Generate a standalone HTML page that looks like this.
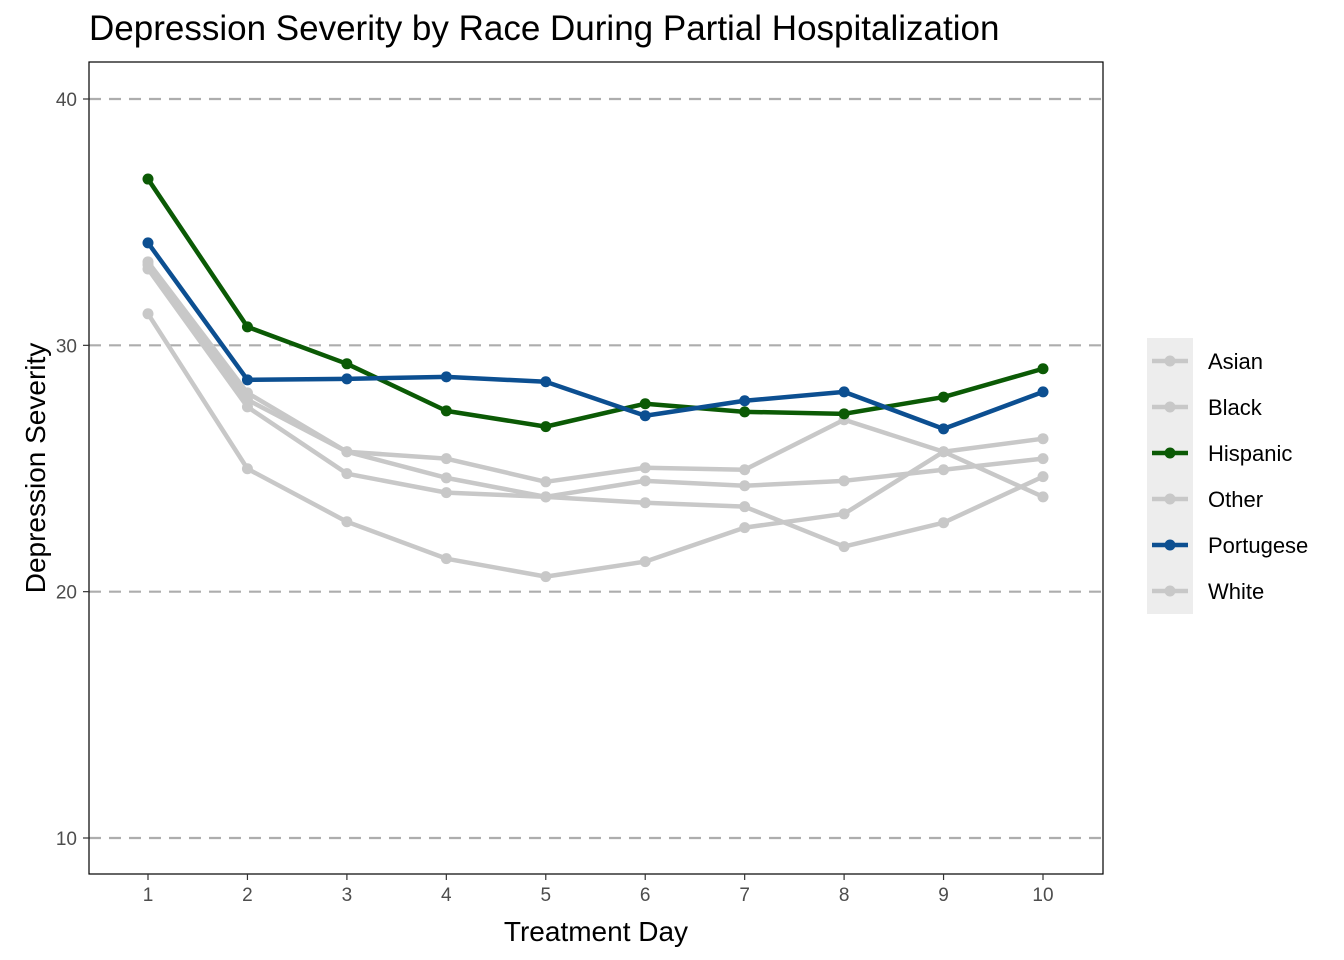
<!DOCTYPE html>
<html><head><meta charset="utf-8"><style>
body{margin:0;background:#fff;width:1344px;height:960px;overflow:hidden}
svg{display:block;font-family:"Liberation Sans",Arial,sans-serif}
</style></head><body>
<svg id="chart" width="1344" height="960" xmlns="http://www.w3.org/2000/svg">
<text x="89" y="40" font-size="35" fill="#000">Depression Severity by Race During Partial Hospitalization</text>
<g id="grid"></g>
<g id="series"></g>
<rect x="89" y="62" width="1014" height="812" fill="none" stroke="#000" stroke-width="1.2"/>
<g id="axes"></g>
<text x="596" y="941" font-size="28" text-anchor="middle">Treatment Day</text>
<text transform="translate(45,468) rotate(-90)" font-size="28" text-anchor="middle">Depression Severity</text>
<rect x="1147" y="338" width="46" height="276" fill="#ededed"/>
<g id="legend"></g>
</svg>
<script>
const days=[1,2,3,4,5,6,7,8,9,10];
const yTicks=[10,20,30,40];
const seriesNames=["Asian","Black","Hispanic","Other","Portugese","White"];
const asian=[33.39,28.07,25.68,25.4,24.46,25.03,24.95,26.98,25.68,23.85];
const black=[33.27,27.79,25.68,24.62,23.85,24.5,24.3,24.5,24.95,25.4];
const hispanic=[36.75,30.75,29.25,27.34,26.7,27.63,27.3,27.22,27.9,29.05];
const other=[31.28,24.99,22.84,21.34,20.61,21.22,22.6,23.16,25.68,26.21];
const portugese=[34.16,28.6,28.64,28.72,28.52,27.14,27.75,28.11,26.61,28.11];
const white=[33.1,27.5,24.79,24.02,23.85,23.61,23.45,21.83,22.8,24.67];
const colors={Asian:"#c8c8c8",Black:"#c8c8c8",Hispanic:"#0b5a05",Other:"#c8c8c8",Portugese:"#0c4f91",White:"#c8c8c8"};
const NS="http://www.w3.org/2000/svg";
const xS=d=>148+(d-1)*(1043-148)/9;
const yS=v=>838-(v-10)*(838-99)/30;
function mk(tag,attrs,parent){const e=document.createElementNS(NS,tag);for(const k in attrs)e.setAttribute(k,attrs[k]);parent.appendChild(e);return e;}
const grid=document.getElementById('grid'),axes=document.getElementById('axes');
yTicks.forEach(t=>{
  const l=mk('line',{x1:89,x2:1103,y1:yS(t),y2:yS(t),stroke:'#adadad','stroke-width':2.2,'stroke-dasharray':'12,8'},grid);
  
  
  const tk=mk('line',{x1:83,x2:89,y1:yS(t),y2:yS(t),stroke:'#333','stroke-width':1.2},axes);
  
  
  const tx=mk('text',{x:77,y:yS(t)+7,'font-size':19,'text-anchor':'end',fill:'#4d4d4d'},axes);
  tx.textContent=t;
  
  
});
days.forEach(d=>{
  const tk=mk('line',{x1:xS(d),x2:xS(d),y1:874,y2:880,stroke:'#333','stroke-width':1.2},axes);
  
  
  const tx=mk('text',{x:xS(d),y:901,'font-size':19,'text-anchor':'middle',fill:'#4d4d4d'},axes);
  tx.textContent=d;
  
  
});
const data={Asian:asian,Black:black,Hispanic:hispanic,Other:other,Portugese:portugese,White:white};
const order=["Asian","Black","Other","White","Hispanic","Portugese"];
const sg=document.getElementById('series');
order.forEach(n=>{
  const g=mk('g',{},sg);
  
  
  const pts=data[n].map((v,i)=>xS(days[i])+','+yS(v)).join(' ');
  const pl=mk('polyline',{points:pts,fill:'none',stroke:colors[n],'stroke-width':4.5,'stroke-linejoin':'round'},g);
  
  
  data[n].forEach((v,i)=>{
    const c=mk('circle',{cx:xS(days[i]),cy:yS(v),r:5.5,fill:colors[n]},g);
    
    
  });
});
const lg=document.getElementById('legend');
seriesNames.forEach((n,i)=>{
  const y=361+i*46;
  const g=mk('g',{},lg);
  
  
  mk('line',{x1:1152,x2:1188,y1:y,y2:y,stroke:colors[n],'stroke-width':4.5},g);
  mk('circle',{cx:1170,cy:y,r:5.5,fill:colors[n]},g);
  const t=mk('text',{x:1208,y:y+8,'font-size':22,fill:'#000'},g);
  t.textContent=n;
});
</script>
</body></html>
